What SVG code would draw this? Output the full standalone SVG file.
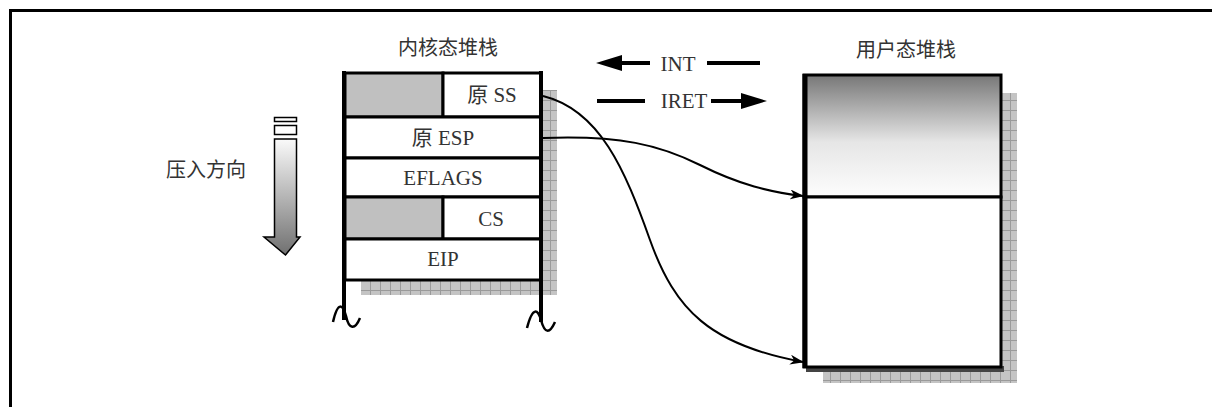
<svg xmlns="http://www.w3.org/2000/svg" width="1212" height="407" viewBox="0 0 1212 407">
<defs>
<pattern id="hatch" width="10" height="10" patternUnits="userSpaceOnUse">
<rect width="10" height="10" fill="#c4c4c4"/>
<path d="M0,0.5H10M0.5,0V10" stroke="#9a9a9a" stroke-width="1"/>
</pattern>
<linearGradient id="userGrad" x1="0" y1="0" x2="0" y2="1">
<stop offset="0" stop-color="#777"/>
<stop offset="0.55" stop-color="#e6e6e6"/>
<stop offset="1" stop-color="#fdfdfd"/>
</linearGradient>
<linearGradient id="pushGrad" x1="0" y1="0" x2="0" y2="1">
<stop offset="0" stop-color="#fafafa"/>
<stop offset="1" stop-color="#707070"/>
</linearGradient>
<marker id="arr" viewBox="0 0 14 10" refX="13" refY="5" markerWidth="14" markerHeight="10" markerUnits="userSpaceOnUse" orient="auto">
<path d="M0,0 L14,5 L0,10 L4,5 Z" fill="#000"/>
</marker>
<style>
.t{font-family:"Liberation Serif","Noto Sans CJK SC",serif;font-size:21px;fill:#333;text-anchor:middle}
.h{font-family:"Noto Sans CJK SC","Liberation Serif",sans-serif;font-size:20px;fill:#333;text-anchor:middle}
.cell{fill:#fff;stroke:#000;stroke-width:3}
.grey{fill:#c0c0c0;stroke:#000;stroke-width:3}
.edge{fill:none;stroke:#000;stroke-width:2}
</style>
</defs>
<rect x="0" y="0" width="1212" height="407" fill="#fff"/>
<rect id="frame" x="10.5" y="10.5" width="1220" height="420" fill="none" stroke="#000" stroke-width="3"/>

<g id="kernel-stack">
<text class="h" x="448" y="55">内核态堆栈</text>
<rect x="543" y="90" width="14" height="205" fill="url(#hatch)"/>
<rect x="361" y="280" width="196" height="15" fill="url(#hatch)"/>
<rect class="grey" x="345" y="73" width="98" height="44"/>
<rect class="cell" x="443" y="73" width="98" height="44"/>
<rect class="cell" x="345" y="117" width="196" height="41"/>
<rect class="cell" x="345" y="158" width="196" height="39"/>
<rect class="grey" x="345" y="197" width="98" height="42"/>
<rect class="cell" x="443" y="197" width="98" height="42"/>
<rect class="cell" x="345" y="239" width="196" height="41"/>
<path d="M344,71 V320 M541,71 V322" stroke="#000" stroke-width="4" fill="none"/>
<path d="M333,322 C338,300 343,305 346,316 C349,330 355,330 360,318" stroke="#000" stroke-width="2.5" fill="none"/>
<path d="M527,328 C533,305 538,310 541,320 C545,335 550,333 555,322" stroke="#000" stroke-width="2.5" fill="none"/>
<text class="t" x="492" y="102">原 SS</text>
<text class="t" x="443" y="145">原 ESP</text>
<text class="t" x="443" y="185">EFLAGS</text>
<text class="t" x="491" y="226">CS</text>
<text class="t" x="443" y="266">EIP</text>
</g>

<g id="user-stack">
<text class="h" x="906" y="57">用户态堆栈</text>
<rect x="1001" y="93" width="16" height="290" fill="url(#hatch)"/>
<rect x="823" y="367" width="194" height="16" fill="url(#hatch)"/>
<rect x="806" y="366" width="198" height="6" fill="#444"/>
<rect x="804" y="75" width="197" height="122" fill="url(#userGrad)" stroke="#000" stroke-width="3"/>
<rect x="804" y="197" width="197" height="170" fill="#fff" stroke="#000" stroke-width="3"/>
<path d="M805,74 V368" stroke="#000" stroke-width="5"/>
</g>

<g id="push-direction">
<text class="h" x="206" y="177">压入方向</text>
<rect x="274.5" y="117.5" width="22" height="4" fill="#fff" stroke="#000" stroke-width="1.5"/>
<rect x="274.5" y="125.5" width="22" height="9" fill="#fff" stroke="#000" stroke-width="1.5"/>
<path d="M274.5,139 H296.5 V237 H300 L285.5,255 L264,237 H274.5 Z" fill="url(#pushGrad)" stroke="#000" stroke-width="1.5"/>
</g>

<g id="int-iret">
<path d="M596,63 L622,55 L622,71 Z" fill="#000"/>
<path d="M620,63 H650" stroke="#000" stroke-width="4"/>
<text class="t" x="678" y="71">INT</text>
<path d="M707,63 H760" stroke="#000" stroke-width="4"/>
<path d="M597,101 H645" stroke="#000" stroke-width="4"/>
<text class="t" x="684" y="108">IRET</text>
<path d="M711,101 H745" stroke="#000" stroke-width="4"/>
<path d="M767,101 L741,93 L741,109 Z" fill="#000"/>
</g>

<g id="connectors">
<path class="edge" d="M543,96 C600,110 625,170 650,240 C675,310 710,345 803,362" marker-end="url(#arr)"/>
<path class="edge" d="M543,138 C620,135 660,145 700,165 C740,185 770,192 803,196" marker-end="url(#arr)"/>
</g>
</svg>
